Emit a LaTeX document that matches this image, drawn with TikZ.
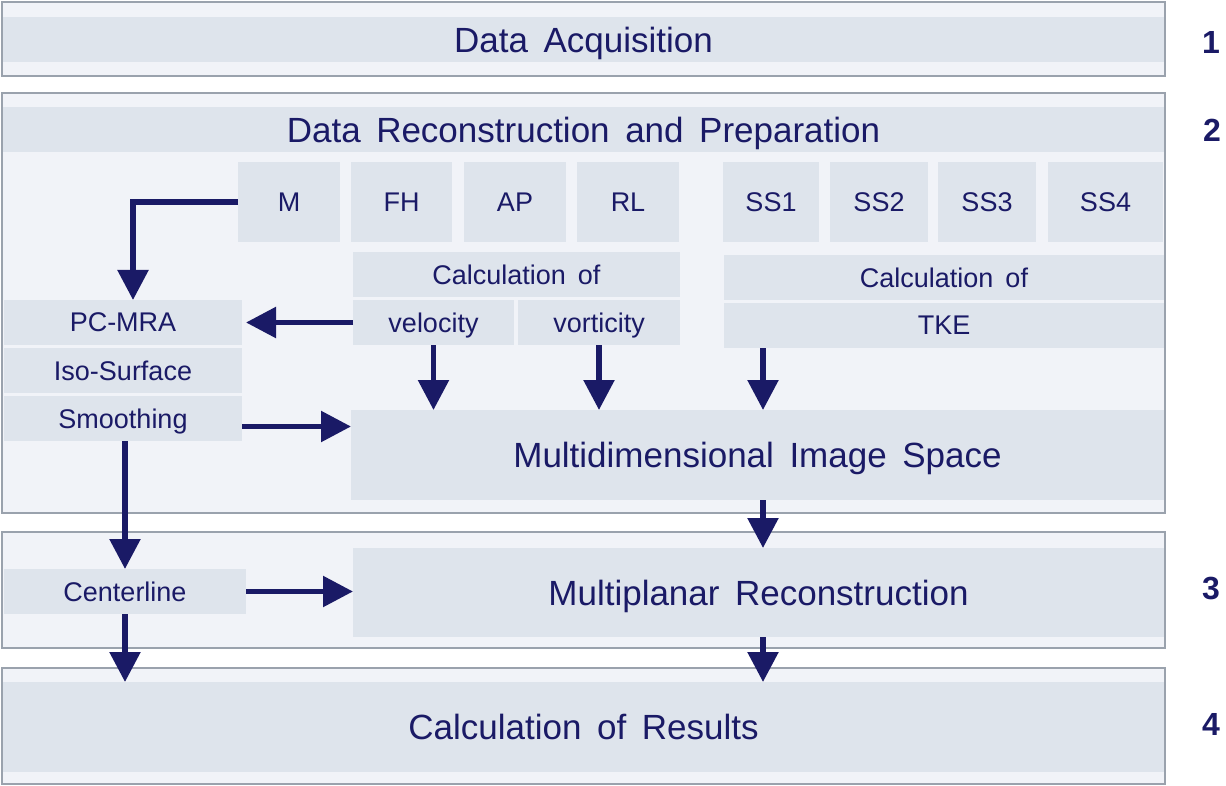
\documentclass[tikz,border=0pt]{standalone}
\usepackage{fontspec}
\setmainfont{Liberation Sans}[WordSpace=1.6]
\usepackage{tikz}
\usetikzlibrary{arrows.meta}

\definecolor{frameline}{HTML}{9AA2AD}
\definecolor{framefill}{HTML}{F1F3F8}
\definecolor{boxfill}{HTML}{DEE4EC}
\definecolor{navy}{HTML}{1A1A66}

\begin{document}
\begin{tikzpicture}[x=1pt, y=-1pt,
  every node/.style = {inner sep=0pt, outer sep=0pt, text=navy, text depth=0pt,
    anchor=north west},
  stage/.style = {draw=frameline, line width=2pt, fill=framefill},
  band/.style = {fill=boxfill, font=\fontsize{35}{40}\selectfont},
  cell/.style = {fill=boxfill, font=\fontsize{27}{32}\selectfont},
  num/.style = {anchor=center, font=\fontsize{32}{38}\selectfont\bfseries},
  flow/.style = {draw=navy, line width=5.5pt,
    -{Triangle[length=30pt, width=30pt]}}]
  \useasboundingbox (0,0) rectangle (1226,786);

  % stages
  \node[stage, minimum width=1163pt, minimum height=74pt] (st1) at (2,2) {};
  \node[stage, minimum width=1163pt, minimum height=420pt] (st2) at (2,93) {};
  \node[stage, minimum width=1163pt, minimum height=116pt] (st3) at (2,532) {};
  \node[stage, minimum width=1163pt, minimum height=116pt] (st4) at (2,668) {};

  \node[band, minimum width=1161pt, minimum height=45pt] (acq) at (3,17) {Data Acquisition};
  \node[band, minimum width=1161pt, minimum height=45pt] (prep) at (3,107) {Data Reconstruction and Preparation};

  % series
  \node[cell, minimum width=102pt, minimum height=80pt] (m) at (238,162) {M};
  \node[cell, minimum width=101pt, minimum height=80pt] (fh) at (351,162) {FH};
  \node[cell, minimum width=102pt, minimum height=80pt] (ap) at (464,162) {AP};
  \node[cell, minimum width=102pt, minimum height=80pt] (rl) at (577,162) {RL};
  \node[cell, minimum width=96pt, minimum height=80pt] (ss1) at (723,162) {SS1};
  \node[cell, minimum width=98pt, minimum height=80pt] (ss2) at (830,162) {SS2};
  \node[cell, minimum width=98pt, minimum height=80pt] (ss3) at (938,162) {SS3};
  \node[cell, minimum width=115pt, minimum height=80pt] (ss4) at (1048,162) {SS4};

  \node[cell, minimum width=327pt, minimum height=45pt] (calcl) at (353,252) {Calculation of};
  \node[cell, minimum width=161pt, minimum height=45pt] (vel) at (353,300) {velocity};
  \node[cell, minimum width=162pt, minimum height=45pt] (vort) at (518,300) {vorticity};
  \node[cell, minimum width=440pt, minimum height=45pt] (calcr) at (724,255) {Calculation of};
  \node[cell, minimum width=440pt, minimum height=45pt] (tke) at (724,303) {TKE};

  \node[cell, minimum width=238pt, minimum height=45pt] (pcmra) at (4,300) {PC-MRA};
  \node[cell, minimum width=238pt, minimum height=45pt] (iso) at (4,348) {Iso-Surface};
  \node[cell, minimum width=238pt, minimum height=45pt] (smooth) at (4,396) {Smoothing};

  \node[band, minimum width=813pt, minimum height=90pt] (mis) at (351,410) {Multidimensional Image Space};
  \node[cell, minimum width=242pt, minimum height=45pt] (center) at (4,569) {Centerline};
  \node[band, minimum width=811pt, minimum height=89pt] (mpr) at (353,548) {Multiplanar Reconstruction};
  \node[band, minimum width=1161pt, minimum height=90pt] (res) at (3,682) {Calculation of Results};

  \node[num] (n1) at (1211,42) {1};
  \node[num] (n2) at (1212,130) {2};
  \node[num] (n3) at (1211,588) {3};
  \node[num] (n4) at (1211,724) {4};

  % connectors
  \coordinate (tk) at ([xshift=39pt]tke.south west);
  \coordinate (sm) at ([yshift=-8pt]smooth.east);
  \draw[flow] (m.west) -| ([xshift=10pt]pcmra.north);
  \draw[flow, shorten >=4pt] (vel.west) -- (pcmra.east);
  \draw[flow] (vel.south) -- (vel.south |- mis.north);
  \draw[flow] (vort.south) -- (vort.south |- mis.north);
  \draw[flow] (tk) -- (tk |- mis.north);
  \draw[flow] (sm) -- (sm -| mis.west);
  \draw[flow] (smooth.south -| center.north) -- (center.north);
  \draw[flow] (center.east) -- (center.east -| mpr.west);
  \draw[flow] (center.south) -- (center.south |- res.north);
  \draw[flow] (mis.south -| tk) -- (mpr.north -| tk);
  \draw[flow] (mpr.south -| tk) -- (res.north -| tk);
\end{tikzpicture}
\end{document}
